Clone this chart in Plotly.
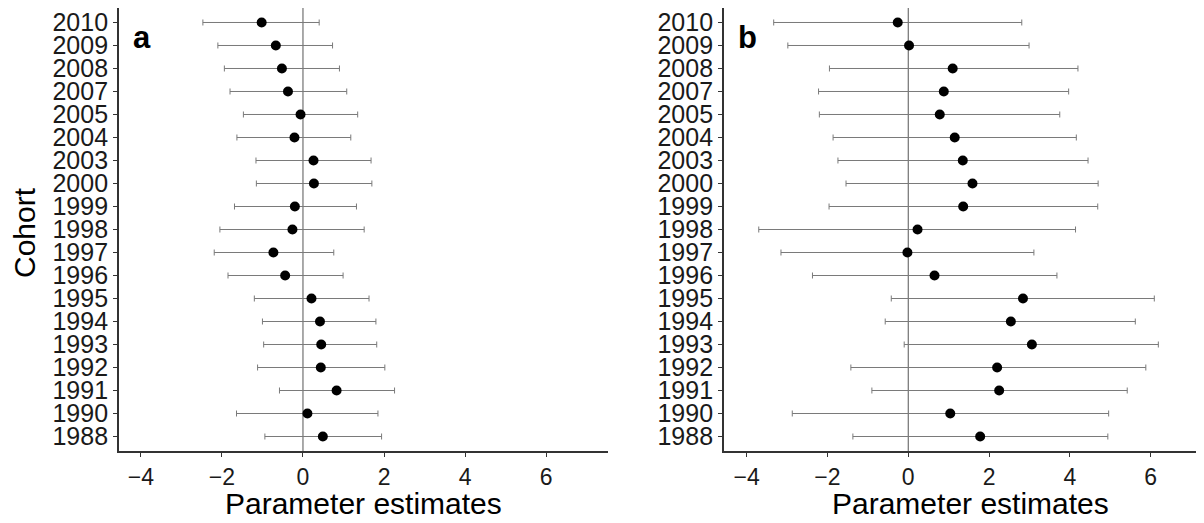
import plotly.graph_objects as go

# Cohorts, listed top to bottom as shown
cohorts = ["2010", "2009", "2008", "2007", "2005", "2004", "2003", "2000", "1999",
           "1998", "1997", "1996", "1995", "1994", "1993", "1992", "1991", "1990", "1988"]

# Panel a: estimate, lower and upper interval bounds
a_est = [-1.02, -0.67, -0.52, -0.37, -0.06, -0.21, 0.26, 0.27, -0.20,
         -0.26, -0.73, -0.44, 0.21, 0.42, 0.45, 0.44, 0.83, 0.11, 0.49]
a_lo = [-2.47, -2.10, -1.94, -1.80, -1.47, -1.63, -1.16, -1.15, -1.69,
        -2.05, -2.19, -1.85, -1.20, -1.00, -0.97, -1.12, -0.58, -1.64, -0.94]
a_hi = [0.40, 0.73, 0.90, 1.08, 1.35, 1.18, 1.68, 1.70, 1.32,
        1.51, 0.76, 0.99, 1.63, 1.80, 1.82, 2.02, 2.26, 1.85, 1.94]

# Panel b
b_est = [-0.26, 0.02, 1.10, 0.88, 0.78, 1.15, 1.35, 1.59, 1.36,
         0.23, -0.02, 0.65, 2.84, 2.54, 3.06, 2.20, 2.25, 1.04, 1.78]
b_lo = [-3.33, -2.98, -1.95, -2.22, -2.20, -1.86, -1.74, -1.54, -1.96,
        -3.70, -3.15, -2.37, -0.42, -0.57, -0.10, -1.42, -0.90, -2.87, -1.37]
b_hi = [2.81, 2.99, 4.20, 3.97, 3.75, 4.16, 4.45, 4.70, 4.69,
        4.14, 3.11, 3.68, 6.09, 5.62, 6.19, 5.88, 5.42, 4.96, 4.94]

x_ticks = [-4, -2, 0, 2, 4, 6]
panel_labels = ["a", "b"]
x_title = "Parameter estimates"
y_title = "Cohort"

FONT = "Liberation Sans, Arial, sans-serif"
ERR_COLOR = "#7a7a7a"
AXIS_COLOR = "#333333"

# The page body has an 8px margin, so the figure is sized to end at the window edge
W, H = 1196, 515

fig = go.Figure()

panels = [(a_est, a_lo, a_hi, "x", "y"), (b_est, b_lo, b_hi, "x2", "y2")]
for est, lo, hi, xa, ya in panels:
    fig.add_trace(go.Scatter(
        x=est, y=cohorts, xaxis=xa, yaxis=ya, mode="markers",
        marker=dict(color="black", size=10),
        error_x=dict(type="data", symmetric=False,
                     array=[h - e for h, e in zip(hi, est)],
                     arrayminus=[e - l for e, l in zip(est, lo)],
                     color=ERR_COLOR, thickness=1, width=3),
        showlegend=False, hoverinfo="x+y",
    ))

# zero reference lines
for xa, ya in [("x", "y"), ("x2", "y2")]:
    fig.add_shape(type="line", xref=xa, yref=ya + " domain", x0=0, x1=0, y0=0, y1=1,
                  line=dict(color="#555555", width=1), layer="below")

cat_order = list(reversed(cohorts))
y_dom = [1 - 443 / H, 1.0]
yaxis_common = dict(type="category", categoryorder="array", categoryarray=cat_order,
                    tickmode="array", tickvals=cat_order, ticktext=cat_order,
                    range=[-0.63, 18.63], showline=True, linecolor=AXIS_COLOR, linewidth=1.8,
                    ticks="outside", ticklen=4, tickcolor=AXIS_COLOR, tickwidth=1,
                    showgrid=False, zeroline=False,
                    tickfont=dict(family=FONT, size=25, color="#1a1a1a"),
                    domain=y_dom)
xaxis_common = dict(tickvals=x_ticks, ticktext=[str(v).replace("-", "\u2212") for v in x_ticks],
                    showline=True, linecolor=AXIS_COLOR, linewidth=1.8,
                    ticks="outside", ticklen=4, tickcolor=AXIS_COLOR, tickwidth=1,
                    showgrid=False, zeroline=False,
                    tickfont=dict(family=FONT, size=23, color="#1a1a1a"))

fig.update_layout(
    width=W, height=H,
    margin=dict(l=0, r=0, t=0, b=0, autoexpand=False),
    paper_bgcolor="white", plot_bgcolor="white",
    font=dict(family=FONT),
    xaxis=dict(xaxis_common, domain=[111 / W, 599.7 / W], range=[-4.54, 7.52], anchor="y"),
    yaxis=dict(yaxis_common, anchor="x"),
    xaxis2=dict(xaxis_common, domain=[716 / W, 1.0], range=[-4.56, 7.32], anchor="y2"),
    yaxis2=dict(yaxis_common, anchor="x2"),
)

# axis titles
for cx in [355 / W, 962 / W]:
    fig.add_annotation(text=x_title, x=cx, y=1 - 495 / H, xref="paper", yref="paper",
                       showarrow=False, xanchor="center", yanchor="middle",
                       font=dict(family=FONT, size=30, color="black"))
fig.add_annotation(text=y_title, x=16 / W, y=1 - 225 / H, xref="paper", yref="paper",
                   showarrow=False, xanchor="center", yanchor="middle", textangle=-90,
                   font=dict(family=FONT, size=30, color="black"))

# panel letters
for lab, xa, ya in zip(panel_labels, ["x", "x2"], ["y", "y2"]):
    fig.add_annotation(text="<b>%s</b>" % lab, x=-3.97, y=17.35, xref=xa, yref=ya,
                       showarrow=False, font=dict(family=FONT, size=31, color="black"),
                       xanchor="center", yanchor="middle")

fig.write_html("out.html")
